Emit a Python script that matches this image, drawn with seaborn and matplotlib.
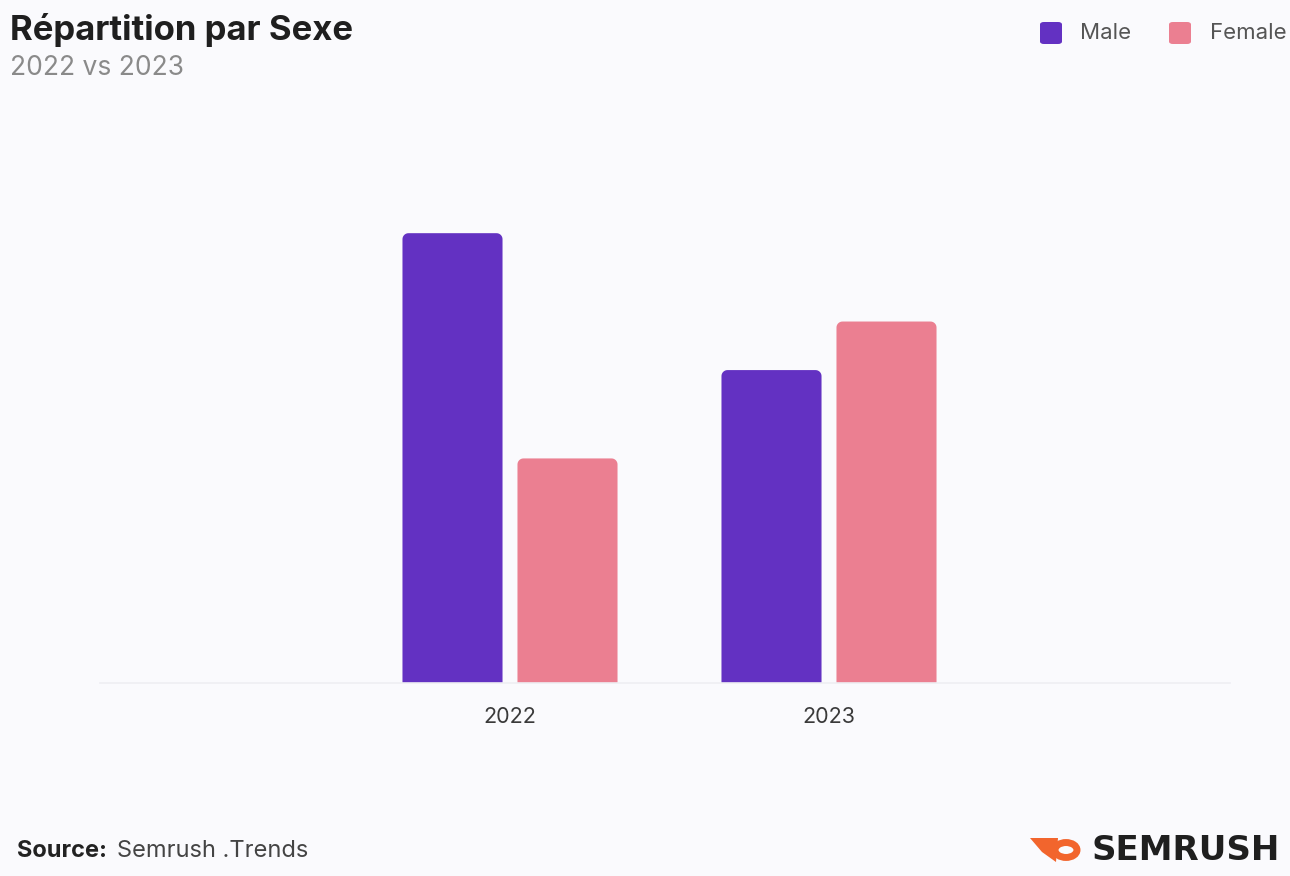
import matplotlib
matplotlib.use("Agg")
import matplotlib.pyplot as plt
import seaborn as sns
import pandas as pd
import numpy as np
from matplotlib.patches import Circle, Polygon, FancyBboxPatch

years = ["2022", "2023"]
male = [66.7, 46.4]
female = [33.3, 53.6]
series_names = ["Male", "Female"]
colors = ["#6331C2", "#EB7F91"]
bg = "#FAFAFD"

df = pd.DataFrame({
    "year": years * 2,
    "sex": [series_names[0]] * 2 + [series_names[1]] * 2,
    "value": male + female,
})

sns.set_theme(style="white")
plt.rcParams["font.family"] = ["Inter", "DejaVu Sans"]

fig = plt.figure(figsize=(12.9, 8.76), dpi=100, facecolor=bg)
ax = fig.add_axes([100 / 1290, 1 - 683 / 876, 1130 / 1290, (683 - 130) / 876])
ax.set_facecolor(bg)

sns.barplot(data=df, x="year", y="value", hue="sex", hue_order=series_names,
            palette=colors, width=0.721, gap=0.13, ax=ax, legend=False,
            saturation=1, linewidth=0)

XL = (-410 / 319, 720 / 319)
YL = (0, 82)
ax.set_xlim(*XL)
ax.set_ylim(*YL)

# rounded top corners (radius ~6 px)
px_x = 1130 / (XL[1] - XL[0])
px_y = 553 / (YL[1] - YL[0])
rad = 6.0
rx, ry = rad / px_x, rad / px_y
t = np.linspace(0, np.pi / 2, 10)
for p in list(ax.patches):
    x, y = p.get_x(), p.get_y()
    w, h = p.get_width(), p.get_height()
    fc = p.get_facecolor()
    p.set_visible(False)
    top = y + h
    right = [(x + w - rx + rx * np.cos(a), top - ry + ry * np.sin(a)) for a in t]
    left = [(x + rx - rx * np.cos(a), top - ry + ry * np.sin(a)) for a in t[::-1]]
    pts = [(x, y), (x + w, y)] + right + left
    ax.add_patch(Polygon(pts, closed=True, facecolor=fc, edgecolor="none"))

ax.set_yticks([])
ax.set_xlabel("")
ax.set_ylabel("")
for s in ["top", "right", "left"]:
    ax.spines[s].set_visible(False)
ax.spines["bottom"].set_color("#EEEEF3")
ax.spines["bottom"].set_linewidth(1.2)
ax.tick_params(axis="x", length=0, pad=17, labelsize=15.5, labelcolor="#3a3a3a")

# Title and subtitle
fig.text(10 / 1290, 1 - 30 / 876, "Répartition par Sexe", fontsize=25, fontweight="bold",
         color="#1f1f1f", va="center", ha="left")
fig.text(10 / 1290, 1 - 68 / 876, "2022 vs 2023", fontsize=19, color="#8a8a8a",
         va="center", ha="left")

# Legend
leg_items = [(1040, series_names[0], colors[0], 1080), (1169, series_names[1], colors[1], 1210)]
for xs, name, c, xt in leg_items:
    fig.patches.append(FancyBboxPatch((xs / 1290, 1 - 44 / 876), 22 / 1290, 22 / 876,
                                      boxstyle="round,pad=0,rounding_size=0.003",
                                      transform=fig.transFigure, facecolor=c,
                                      edgecolor="none"))
    fig.text(xt / 1290, 1 - 33 / 876, name, fontsize=16, color="#555555",
             va="center", ha="left")

# Source
fig.text(17 / 1290, 1 - 851 / 876, "Source:", fontsize=17, fontweight="bold",
         color="#222222", va="center", ha="left")
fig.text(117 / 1290, 1 - 851 / 876, "Semrush .Trends", fontsize=17, color="#444444",
         va="center", ha="left")

# SEMRUSH logo
fig.text(1092 / 1290, 1 - 850 / 876, "SEMRUSH", fontsize=24.5, fontweight="bold",
         family="DejaVu Sans", color="#1f1f1f", va="center", ha="left")
orange = "#F2652D"
fig.patches.append(Circle((1066 / 1290, 1 - 850 / 876), 11 / 1290, transform=fig.transFigure,
                          facecolor="none", edgecolor=orange, linewidth=5))
fig.patches.append(Polygon([(1030 / 1290, 1 - 838 / 876), (1058 / 1290, 1 - 838 / 876),
                            (1056 / 1290, 1 - 862 / 876), (1042 / 1290, 1 - 852 / 876)],
                           closed=True, transform=fig.transFigure, facecolor=orange,
                           edgecolor="none"))

fig.savefig("out.png", dpi=100, facecolor=bg)
